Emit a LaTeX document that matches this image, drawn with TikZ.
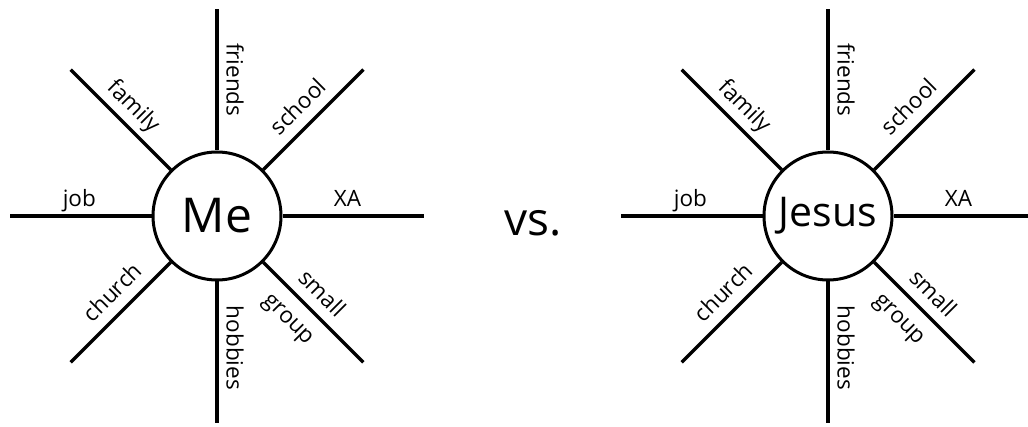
\documentclass[tikz,border=0pt]{standalone}
\usepackage{fontspec}
\setmainfont{Open Sans}
\begin{document}
\begin{tikzpicture}[x=1pt,y=1pt,
    hub/.style={draw,circle,line width=3pt,minimum size=128pt,inner sep=0pt},
    ray/.style={line width=3.2pt},
    lbl/.style={font=\fontsize{22.5}{27}\selectfont,inner sep=0pt,outer sep=9.5pt,
      text height=16pt,text depth=0pt},
    diag/.style={lbl,outer sep=12pt}]
  \useasboundingbox (0,0) rectangle (1028,426);
  \foreach \hubname/\cx/\word/\size in {me/217/Me/48,jesus/828/Jesus/41} {
    \node[hub,font=\fontsize{\size}{\size}\selectfont] (\hubname) at (\cx,210) {\word};
    \foreach \a in {0,45,...,315} \coordinate (\hubname-\a) at ([shift={(\a:207)}]\hubname.center);
    \draw[ray] (\hubname) -- (\hubname-90) node[lbl,pos=.5,rotate=-90,anchor=south] {friends};
    \draw[ray] (\hubname) -- (\hubname-270) node[lbl,pos=.47,rotate=-90,anchor=south] {hobbies};
    \draw[ray] (\hubname) -- (\hubname-180) node[lbl,pos=.51,anchor=south] {job};
    \draw[ray] (\hubname) -- (\hubname-0) node[lbl,pos=.46,anchor=south] {XA};
    \draw[ray] (\hubname) -- (\hubname-135) node[diag,pos=.5,rotate=-45,anchor=south] {family};
    \draw[ray] (\hubname) -- (\hubname-45) node[diag,pos=.49,rotate=45,anchor=south] {school};
    \draw[ray] (\hubname) -- (\hubname-225) node[diag,pos=.44,rotate=45,anchor=south] {church};
    \draw[ray] (\hubname) -- (\hubname-315) node[diag,pos=.45,rotate=-45,anchor=south] {small}
      node[diag,pos=.41,rotate=-45,anchor=north] {group};
  }
  \node[font=\fontsize{46}{46}\selectfont] (vs) at (533,203) {vs.};
\end{tikzpicture}
\end{document}
